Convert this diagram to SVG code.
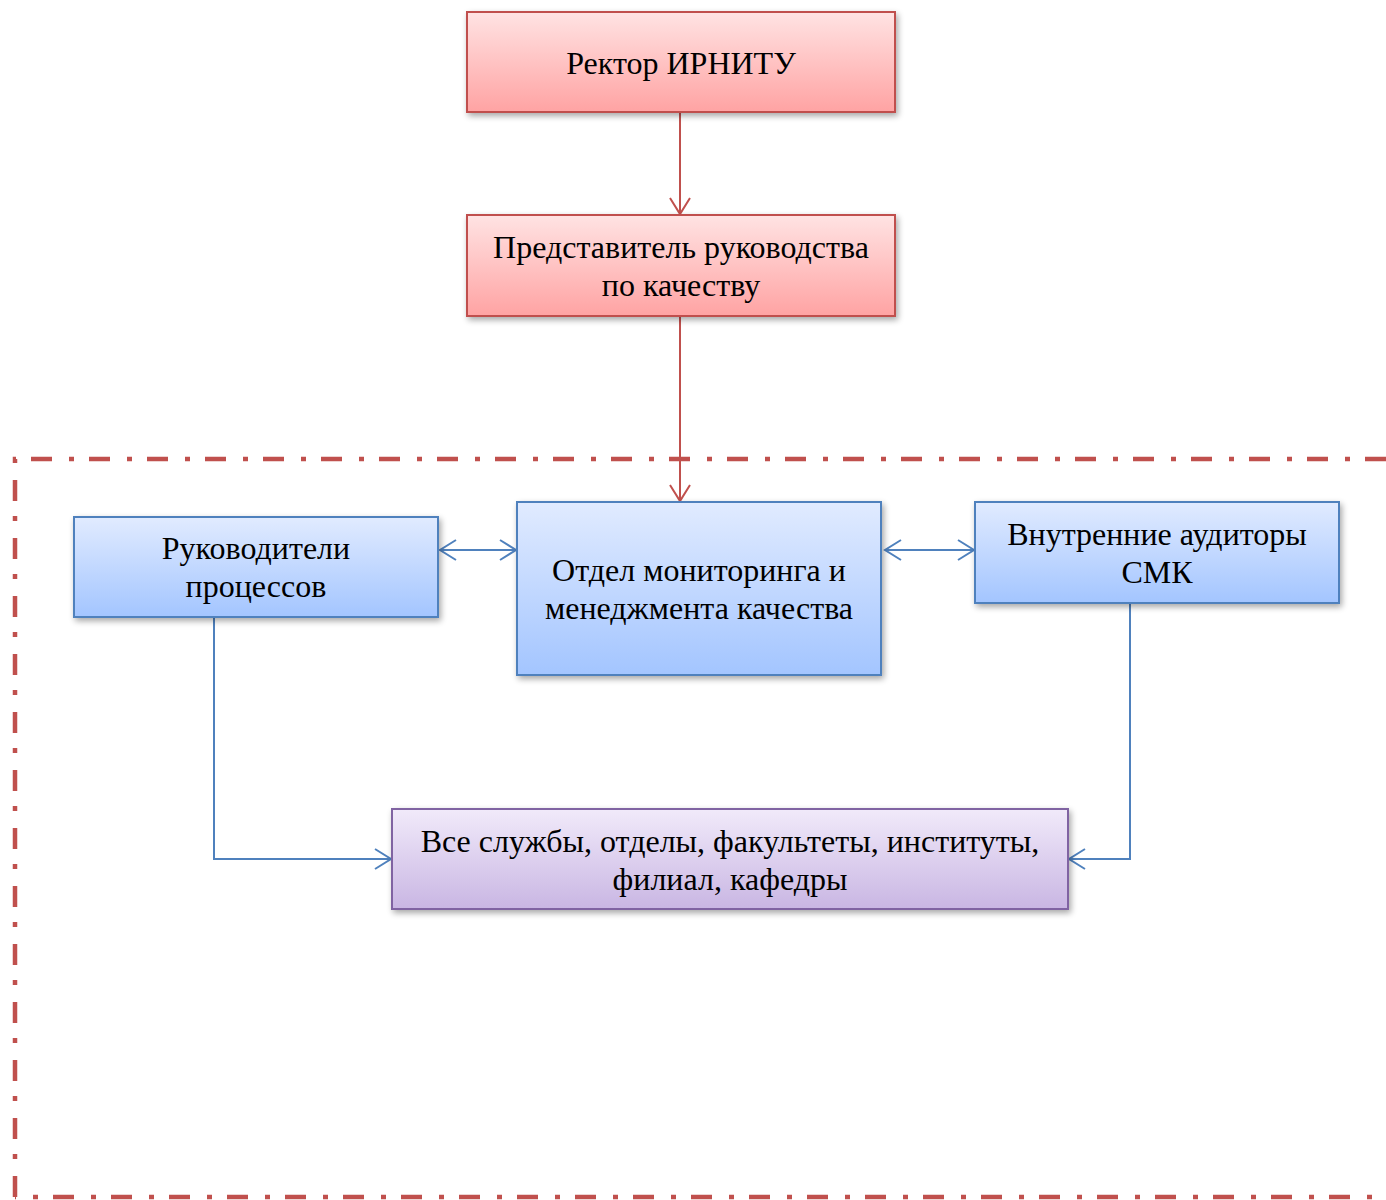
<svg xmlns="http://www.w3.org/2000/svg" width="1386" height="1200" viewBox="0 0 1386 1200">
<defs>
<linearGradient id="gRed" x1="0" y1="0" x2="0" y2="1"><stop offset="0" stop-color="#ffe3e3"/><stop offset="1" stop-color="#ffa3a3"/></linearGradient>
<linearGradient id="gBlue" x1="0" y1="0" x2="0" y2="1"><stop offset="0" stop-color="#e1ebff"/><stop offset="1" stop-color="#a3c5ff"/></linearGradient>
<linearGradient id="gPur" x1="0" y1="0" x2="0" y2="1"><stop offset="0" stop-color="#f1eafa"/><stop offset="1" stop-color="#c9b6e3"/></linearGradient>
<filter id="sh" x="-10%" y="-20%" width="120%" height="150%"><feGaussianBlur in="SourceAlpha" stdDeviation="3"/><feOffset dx="2" dy="3"/><feComponentTransfer><feFuncA type="linear" slope="0.35"/></feComponentTransfer><feMerge><feMergeNode/><feMergeNode in="SourceGraphic"/></feMerge></filter>
<marker id="aR" markerWidth="24" markerHeight="24" refX="18" refY="12" orient="auto" markerUnits="userSpaceOnUse"><path d="M2 2 L18 12 L2 22" fill="none" stroke="#c0504d" stroke-width="2"/></marker>
<marker id="aB" markerWidth="24" markerHeight="24" refX="18" refY="12" orient="auto-start-reverse" markerUnits="userSpaceOnUse"><path d="M2 2 L18 12 L2 22" fill="none" stroke="#4f81bd" stroke-width="2"/></marker>
</defs>
<style>
.t{font-family:"Liberation Serif","Times New Roman",serif;font-size:32px;fill:#000;text-anchor:middle}
.r{fill:url(#gRed);stroke:#c0504d;stroke-width:2;filter:url(#sh)}
.b{fill:url(#gBlue);stroke:#4f81bd;stroke-width:2;filter:url(#sh)}
.p{fill:url(#gPur);stroke:#8064a2;stroke-width:2;filter:url(#sh)}
.cr{fill:none;stroke:#c0504d;stroke-width:2}
.cb{fill:none;stroke:#4f81bd;stroke-width:2}
.frame{fill:none;stroke:#c0504d;stroke-width:4.5;stroke-dasharray:21 17 5 15}
</style>
<g id="frame">
<path class="frame" d="M15 1197 L15 459 L1386 459"/>
<path class="frame" d="M15 1197 L1386 1197" stroke-dashoffset="-38"/>
</g>
<g id="connectors">
<path class="cr" d="M680 112 L680 214" marker-end="url(#aR)"/>
<path class="cr" d="M680 316 L680 501" marker-end="url(#aR)"/>
<path class="cb" d="M440 550 L516 550" marker-start="url(#aB)" marker-end="url(#aB)"/>
<path class="cb" d="M885 550 L974 550" marker-start="url(#aB)" marker-end="url(#aB)"/>
<path class="cb" d="M214 617 L214 859 L391 859" marker-end="url(#aB)"/>
<path class="cb" d="M1130 603 L1130 859 L1069 859" marker-end="url(#aB)"/>
</g>
<g id="rector"><rect class="r" x="467" y="12" width="428" height="100"/><text class="t" x="681" y="74">Ректор ИРНИТУ</text></g>
<g id="predstavitel"><rect class="r" x="467" y="215" width="428" height="101"/><text class="t" x="681" y="258">Представитель руководства</text><text class="t" x="681" y="296">по качеству</text></g>
<g id="rukovoditeli"><rect class="b" x="74" y="517" width="364" height="100"/><text class="t" x="256" y="559">Руководители</text><text class="t" x="256" y="597">процессов</text></g>
<g id="otdel"><rect class="b" x="517" y="502" width="364" height="173"/><text class="t" x="699" y="581">Отдел мониторинга и</text><text class="t" x="699" y="619">менеджмента качества</text></g>
<g id="auditory"><rect class="b" x="975" y="502" width="364" height="101"/><text class="t" x="1157" y="545">Внутренние аудиторы</text><text class="t" x="1157" y="583">СМК</text></g>
<g id="vse"><rect class="p" x="392" y="809" width="676" height="100"/><text class="t" x="730" y="852">Все службы, отделы, факультеты, институты,</text><text class="t" x="730" y="890">филиал, кафедры</text></g>
</svg>
